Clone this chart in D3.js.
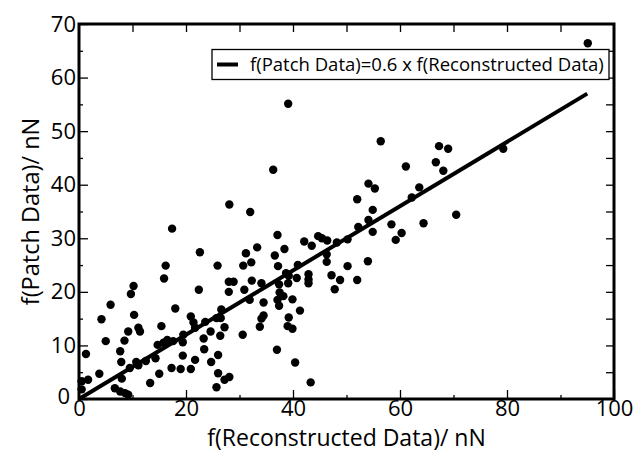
<!DOCTYPE html>
<html>
<head>
<meta charset="utf-8">
<script src="https://cdn.jsdelivr.net/npm/d3@7"></script>
<style>
  body { margin: 0; background: #fff; }
  text { font-family: "Open Sans", sans-serif; fill: #000; }
</style>
</head>
<body>
<div id="chart"></div>
<script>
// f(Reconstructed Data) in nN
const reconstructed = [
  95.1, 39.1, 36.3, 28.1, 32.0, 56.4, 61.1, 67.3, 69.0, 66.7,
  68.1, 79.3, 54.1, 55.3, 52.0, 63.6, 62.2, 54.9, 70.5, 54.1,
  52.2, 58.4, 64.4, 54.9, 60.3, 59.2, 50.2, 48.2, 50.2, 54.0,
  48.8, 52.0, 47.8, 17.4, 37.1, 42.1, 44.7, 46.4, 43.5, 33.3,
  38.4, 22.6, 31.2, 36.6, 32.2, 30.7, 37.2, 25.9, 16.2, 15.9,
  46.3, 46.3, 40.9, 47.2, 42.9, 42.9, 42.9, 40.7, 38.7, 39.2,
  39.1, 37.4, 37.5, 38.2, 39.9, 37.1, 37.4, 34.1, 32.3, 28.0,
  28.9, 28.0, 30.9, 31.9, 22.4, 34.5, 41.3, 34.5, 34.1, 33.8,
  39.2, 39.0, 39.9, 37.0, 40.4, 43.3, 30.6, 26.6, 26.5, 25.7,
  27.2, 24.6, 23.6, 23.3, 23.4, 24.7, 26.0, 26.0, 25.7, 27.2,
  28.1, 26.4, 18.0, 20.9, 21.4, 21.7, 19.5, 19.4, 19.4, 21.7,
  20.9, 19.0, 17.3, 17.6, 16.5, 15.8, 14.7, 15.4, 14.3, 15.0,
  12.5, 13.3, 10.7, 11.1, 9.5, 7.9, 8.0, 7.7, 8.5, 9.2,
  11.1, 11.4, 10.3, 9.7, 10.2, 5.9, 4.2, 5.0, 3.8, 1.3,
  1.7, 0.5, 0.5, 6.7, 7.7, 8.6, 9.2, 45.4
];

// f(Patch Data) in nN
const patch = [
  66.4, 55.1, 42.8, 36.3, 34.9, 48.1, 43.4, 47.2, 46.7, 44.2,
  42.6, 46.7, 40.2, 39.3, 37.3, 39.5, 37.6, 35.3, 34.4, 33.4,
  32.1, 32.6, 32.8, 31.2, 31.0, 29.7, 29.8, 29.2, 24.8, 25.7,
  22.2, 22.2, 20.5, 31.8, 30.6, 29.4, 30.4, 29.6, 28.6, 28.3,
  28.0, 27.4, 27.2, 26.8, 25.5, 24.9, 24.8, 24.9, 24.9, 22.5,
  25.6, 27.0, 25.0, 23.1, 23.3, 22.3, 21.6, 22.6, 23.5, 23.0,
  21.6, 21.4, 19.9, 19.2, 18.6, 18.5, 17.4, 21.6, 22.1, 21.9,
  21.9, 20.0, 20.4, 18.5, 20.4, 18.0, 16.5, 15.6, 15.0, 13.5,
  15.2, 13.6, 13.1, 9.2, 6.8, 3.1, 12.0, 16.7, 15.1, 15.1,
  13.4, 12.6, 14.4, 11.3, 9.3, 6.9, 8.2, 4.8, 2.2, 3.6,
  4.1, 11.8, 16.9, 15.4, 14.3, 13.3, 12.0, 10.6, 8.1, 7.3,
  5.6, 5.6, 5.8, 10.8, 11.0, 10.5, 10.1, 13.6, 7.6, 4.7,
  7.1, 3.0, 6.9, 6.3, 5.8, 6.9, 3.8, 8.9, 10.9, 12.6,
  13.3, 12.6, 15.7, 19.6, 21.1, 17.6, 14.9, 10.8, 4.7, 8.4,
  3.6, 3.3, 1.8, 2.0, 1.4, 1.1, 0.8, 30.0
];

// fitted line f(Patch) = 0.6 x f(Reconstructed)
const slope = 0.6;
const fitRange = [0, 95];

const xTicksMajor = [0, 20, 40, 60, 80, 100];
const yTicksMajor = [0, 10, 20, 30, 40, 50, 60, 70];

const legendLabel = "f(Patch Data)=0.6 x f(Reconstructed Data)";
const xTitle = "f(Reconstructed Data)/ nN";
const yTitle = "f(Patch Data)/ nN";

const width = 635, height = 452;
const margin = {top: 24, right: 21, bottom: 53, left: 79};

const svg = d3.select("#chart").append("svg")
  .attr("width", width).attr("height", height);

const x = d3.scaleLinear().domain([0, 100]).range([margin.left, width - margin.right]);
const y = d3.scaleLinear().domain([0, 70]).range([height - margin.bottom, margin.top]);

const points = reconstructed.map((d, i) => ({x: d, y: patch[i]}));

// fit line
const line = d3.line().x(d => x(d)).y(d => y(slope * d));
svg.append("path")
  .attr("d", line(fitRange))
  .attr("fill", "none")
  .attr("stroke", "#000")
  .attr("stroke-width", 4);

// dots
svg.append("g")
  .selectAll("circle")
  .data(points)
  .join("circle")
  .attr("cx", d => x(d.x))
  .attr("cy", d => y(d.y))
  .attr("r", 4.2)
  .attr("fill", "#000");

// axes, ticks pointing inward
function styleAxis(g) {
  g.select(".domain").remove();
  g.selectAll(".tick line").attr("stroke", "#000").attr("stroke-width", 1.3);
  g.selectAll(".tick text")
    .filter(function() { return this.textContent === ""; })
    .remove();
  g.selectAll("text").attr("font-size", 22).attr("fill", "#000")
    .attr("font-family", "Open Sans, sans-serif");
}

const bottom = height - margin.bottom;
const right = width - margin.right;

svg.append("g").attr("transform", `translate(0,${bottom})`)
  .call(d3.axisBottom(x).tickValues(d3.range(10, 100, 20)).tickSize(-4).tickFormat(""))
  .call(styleAxis);
svg.append("g").attr("transform", `translate(0,${bottom})`)
  .call(d3.axisBottom(x).tickValues(xTicksMajor).tickSize(-9).tickPadding(1))
  .call(styleAxis);

svg.append("g").attr("transform", `translate(${margin.left},0)`)
  .call(d3.axisLeft(y).tickValues(d3.range(5, 70, 10)).tickSize(-4).tickFormat(""))
  .call(styleAxis);
svg.append("g").attr("transform", `translate(${margin.left},0)`)
  .call(d3.axisLeft(y).tickValues(yTicksMajor).tickSize(-9).tickPadding(3))
  .call(styleAxis)
  // the corner "0" sits a little left so it clears the x-axis "0"
  .call(g => g.selectAll(".tick text").filter(d => d === 0).attr("x", -9).attr("dy", "0.2em"));

svg.append("g").attr("transform", `translate(0,${margin.top})`)
  .call(d3.axisTop(x).tickValues(d3.range(10, 100, 10)).tickSize(-8).tickFormat(""))
  .call(styleAxis);
svg.append("g").attr("transform", `translate(${right},0)`)
  .call(d3.axisRight(y).tickValues(d3.range(5, 70, 5)).tickSize(-8).tickFormat(""))
  .call(styleAxis);

// frame
svg.append("rect")
  .attr("x", margin.left).attr("y", margin.top)
  .attr("width", right - margin.left).attr("height", bottom - margin.top)
  .attr("fill", "none").attr("stroke", "#000").attr("stroke-width", 3);

// axis titles
svg.append("text")
  .attr("x", (margin.left + right) / 2)
  .attr("y", 446)
  .attr("text-anchor", "middle")
  .attr("font-size", 23)
  .text(xTitle);

svg.append("text")
  .attr("transform", `translate(39, ${(margin.top + bottom) / 2}) rotate(-90)`)
  .attr("text-anchor", "middle")
  .attr("font-size", 23.5)
  .text(yTitle);

// legend
const legend = svg.append("g").attr("transform", "translate(212, 49.5)");
legend.append("rect")
  .attr("width", 397).attr("height", 30)
  .attr("fill", "#fff").attr("stroke", "#000").attr("stroke-width", 1.3);
legend.append("line")
  .attr("x1", 5).attr("x2", 26).attr("y1", 15).attr("y2", 15)
  .attr("stroke", "#000").attr("stroke-width", 4);
legend.append("text")
  .attr("x", 38).attr("y", 21)
  .attr("font-size", 18.5)
  .text(legendLabel);
</script>
</body>
</html>
